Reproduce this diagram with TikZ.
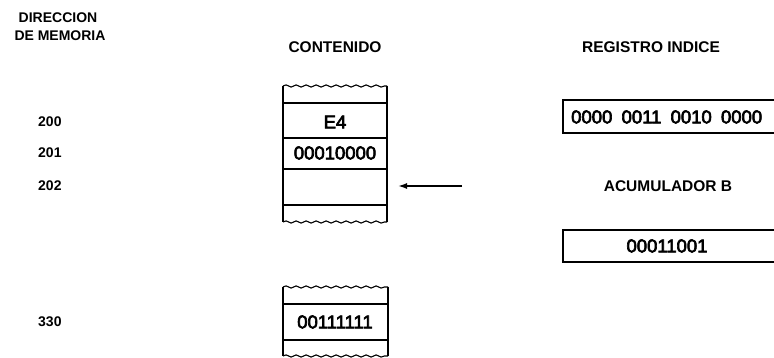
\documentclass[tikz,border=0pt]{standalone}
\usepackage{fontspec}
\setmainfont{Liberation Sans}
\newfontfamily\semibold[FakeBold=3.5]{Liberation Sans}
\usetikzlibrary{decorations.pathmorphing,arrows.meta}
\begin{document}
\begin{tikzpicture}[x=1pt,y=-1pt,
  lbl/.style={font=\fontsize{18.5}{21}\selectfont\semibold, inner sep=0pt},
  hd/.style={font=\fontsize{15.5}{18}\selectfont\bfseries, inner sep=0pt},
  sm/.style={font=\fontsize{14}{16}\selectfont\bfseries, inner sep=0pt},
  wavy/.style={decorate, decoration={snake, amplitude=1.1pt, segment length=10pt}},
  box/.style={line width=1.1pt},
  arr/.style={line width=1.6pt, -{Latex[length=9pt,width=6pt]}}]
\useasboundingbox (0,0) rectangle (774,358);

% headings
\node[sm] (h1) at (58,18) {DIRECCION};
\node[sm] (h2) at (60,36) {DE MEMORIA};
\node[hd] (h3) at (335,47) {CONTENIDO};
\node[hd] (h4) at (651,47) {REGISTRO INDICE};

% addresses
\node[sm, anchor=west] (a200) at (38,122) {200};
\node[sm, anchor=west] (a201) at (38,153) {201};
\node[sm, anchor=west] (a202) at (38,186) {202};
\node[sm, anchor=west] (a330) at (38,322) {330};

% memory block 1
\draw[box] (283,86) -- (283,222);
\draw[box] (387,86) -- (387,222);
\draw[box,wavy] (283,86) -- (387,86);
\draw[box,wavy] (283,222) -- (387,222);
\draw[box] (283,103) -- (387,103);
\draw[box] (283,138) -- (387,138);
\draw[box] (283,169) -- (387,169);
\draw[box] (283,205) -- (387,205);
\node[lbl] (m200) at (335,122) {E4};
\node[lbl] (m201) at (335,153) {00010000};
\coordinate (m202) at (335,186);

% memory block 2
\draw[box] (283,287) -- (283,356);
\draw[box] (388,287) -- (388,356);
\draw[box,wavy] (283,287) -- (388,287);
\draw[box,wavy] (283,356) -- (388,356);
\draw[box] (283,304) -- (388,304);
\draw[box] (283,340) -- (388,340);
\node[lbl] (m330) at (335,322) {00111111};

% pointer arrow
\coordinate (ptrA) at (462,186);
\coordinate (ptrB) at (398,186);
\draw[arr] (ptrA) -- (ptrB);

% index register
\draw[box] (774,100) -- (563,100) -- (563,133) -- (774,133);
\node[lbl, anchor=west] (ix) at (571,117) {0000\hspace{.5em}0011\hspace{.5em}0010\hspace{.5em}0000};

% accumulator B
\node[hd] (h5) at (668,186) {ACUMULADOR B};
\draw[box] (774,230) -- (563,230) -- (563,262) -- (774,262);
\node[lbl] (accb) at (667,246) {00011001};
\end{tikzpicture}
\end{document}
